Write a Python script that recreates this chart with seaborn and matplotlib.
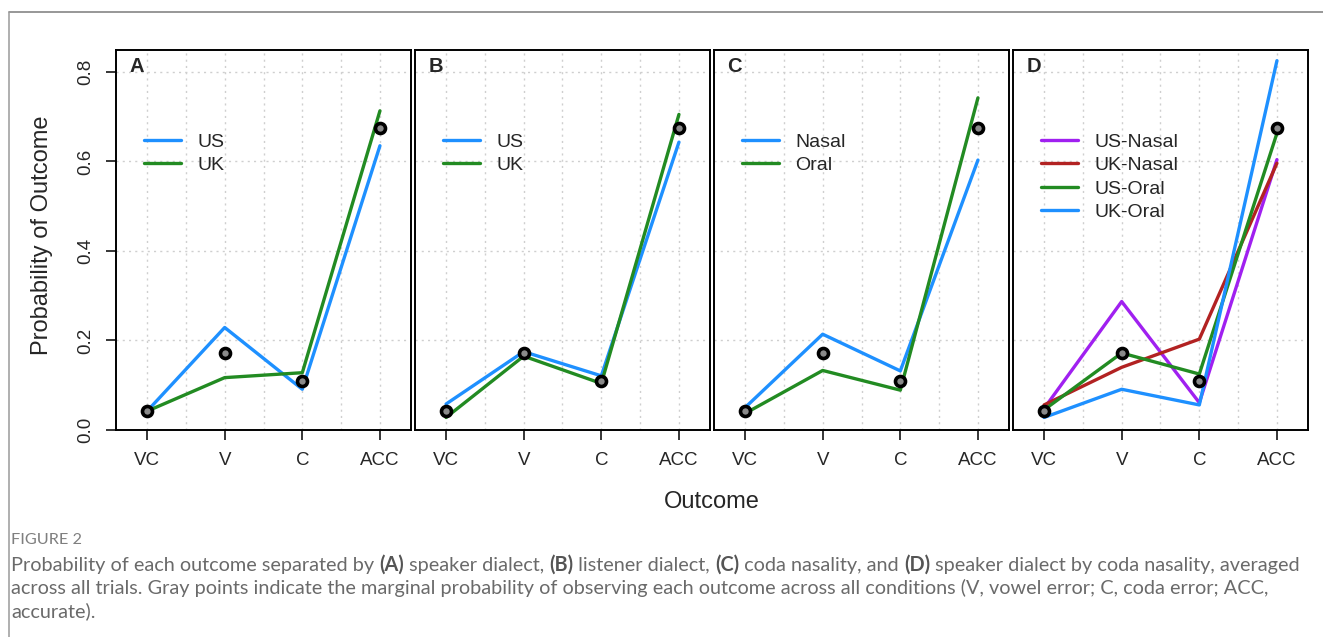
import matplotlib
matplotlib.use("Agg")
import matplotlib.pyplot as plt
from matplotlib.ticker import MultipleLocator
import seaborn as sns
import pandas as pd

# ---------------- data ----------------
outcomes = ["VC", "V", "C", "ACC"]
marginal = [0.042, 0.173, 0.109, 0.675]

a_labels = ["US", "UK"]
a_us = [0.042, 0.229, 0.091, 0.635]
a_uk = [0.042, 0.117, 0.128, 0.713]

b_labels = ["US", "UK"]
b_us = [0.058, 0.175, 0.121, 0.643]
b_uk = [0.028, 0.165, 0.104, 0.705]

c_labels = ["Nasal", "Oral"]
c_nasal = [0.050, 0.214, 0.132, 0.603]
c_oral = [0.037, 0.133, 0.089, 0.742]

d_labels = ["US-Nasal", "UK-Nasal", "US-Oral", "UK-Oral"]
d_us_nasal = [0.048, 0.287, 0.061, 0.604]
d_uk_nasal = [0.056, 0.140, 0.203, 0.596]
d_us_oral = [0.045, 0.172, 0.125, 0.663]
d_uk_oral = [0.028, 0.091, 0.056, 0.825]

panel_letters = ["A", "B", "C", "D"]
yticks = [0.0, 0.2, 0.4, 0.6, 0.8]

BLUE, GREEN, PURPLE, RED = "#1E90FF", "#228B22", "#A020F0", "#B22222"

panels = [
    (a_labels, [a_us, a_uk], [BLUE, GREEN]),
    (b_labels, [b_us, b_uk], [BLUE, GREEN]),
    (c_labels, [c_nasal, c_oral], [BLUE, GREEN]),
    (d_labels, [d_us_nasal, d_uk_nasal, d_us_oral, d_uk_oral],
     [PURPLE, RED, GREEN, BLUE]),
]

# ---------------- figure ----------------
sns.set_style("white")
plt.rcParams["font.family"] = ["Liberation Sans", "DejaVu Sans"]

W, H = 1323, 637
fig = plt.figure(figsize=(W / 100, H / 100), dpi=100)

def px_axes(x0, y0, x1, y1):
    return fig.add_axes([x0 / W, 1 - y1 / H, (x1 - x0) / W, (y1 - y0) / H])

lefts = [116, 415, 714, 1013]
pw = 295
top, bottom = 49.5, 430

for i, (labels, series, colors) in enumerate(panels):
    ax = px_axes(lefts[i], top, lefts[i] + pw, bottom)
    rows = []
    for lab, vals in zip(labels, series):
        for o, v in zip(outcomes, vals):
            rows.append({"Outcome": o, "p": v, "group": lab})
    df = pd.DataFrame(rows)
    sns.lineplot(data=df, x="Outcome", y="p", hue="group", hue_order=labels,
                 palette=dict(zip(labels, colors)), linewidth=2.4, ax=ax,
                 sort=False, solid_capstyle="round", zorder=3)
    mdf = pd.DataFrame({"Outcome": outcomes, "p": marginal})
    sns.scatterplot(data=mdf, x="Outcome", y="p", s=52, color="#8a8a8a",
                    edgecolor="black", linewidth=2.6, ax=ax, legend=False,
                    zorder=5)
    ax.set_xlim(-0.4, 3.4)
    ax.set_ylim(0, 0.85)
    ax.set_xlabel("")
    ax.set_ylabel("")
    ax.xaxis.set_minor_locator(MultipleLocator(0.5))
    ax.set_yticks(yticks)
    ax.set_axisbelow(True)
    ax.grid(True, which="both", axis="x", color="#cfcfcf", linestyle=(0, (1.5, 3)), linewidth=1.0)
    ax.grid(True, which="major", axis="y", color="#cfcfcf", linestyle=(0, (1.5, 3)), linewidth=1.0)
    for s in ax.spines.values():
        s.set_color("black")
        s.set_linewidth(1.4)
    ax.tick_params(axis="x", which="major", length=7.5, width=1.1, color="black",
                   labelsize=13.5, pad=8, direction="out", bottom=True)
    ax.tick_params(axis="x", which="minor", length=0)
    if i == 0:
        ax.tick_params(axis="y", length=7.5, width=1.1, color="black",
                       labelsize=13.5, pad=8, direction="out", left=True)
        ax.set_yticklabels([f"{v:.1f}" for v in yticks])
        plt.setp(ax.get_yticklabels(), rotation=90, va="center")
    else:
        ax.tick_params(axis="y", length=0, labelleft=False)
    handles, labs = ax.get_legend_handles_labels()
    ax.legend(handles, labs, loc="upper left", bbox_to_anchor=(0.095, 0.78),
              frameon=False, fontsize=14, handlelength=1.9, handletextpad=0.85,
              labelspacing=0.3, borderpad=0, borderaxespad=0)
    ax.text(0.045, 0.955, panel_letters[i], transform=ax.transAxes,
            fontsize=14.5, fontweight="bold", ha="left", va="center")

# axis titles
fig.text(42 / W, 1 - 235 / H, "Probability of Outcome", rotation=90,
         ha="center", va="center", fontsize=17)
fig.text(712 / W, 1 - 502 / H, "Outcome", ha="center", va="center", fontsize=17)

# outer frame (top and left)
fig.add_artist(plt.Line2D([9 / W, 1.0], [1 - 12 / H, 1 - 12 / H], color="#7a7a7a", linewidth=1.1))
fig.add_artist(plt.Line2D([9 / W, 9 / W], [1 - 12 / H, 0.0], color="#9a9a9a", linewidth=1.1))

# ---------------- caption ----------------
renderer = fig.canvas.get_renderer()
CAP_FONT = ["Lato", "DejaVu Sans"]
CAP_COLOR = "#6a6a6a"

def draw_rich(x_px, y_px, segments, size, draw=True):
    x = x_px
    made = []
    for txt, bold in segments:
        t = fig.text(x / W, 1 - y_px / H, txt, fontsize=size, family=CAP_FONT,
                     fontweight="bold" if bold else "normal",
                     color="#555555" if bold else CAP_COLOR,
                     ha="left", va="center")
        bb = t.get_window_extent(renderer)
        x += bb.width
        made.append(t)
    if not draw:
        for t in made:
            t.remove()
    return x - x_px

line1 = [("Probability of each outcome separated by ", False), ("(A)", True),
         (" speaker dialect, ", False), ("(B)", True), (" listener dialect, ", False),
         ("(C)", True), (" coda nasality, and ", False), ("(D)", True),
         (" speaker dialect by coda nasality, averaged", False)]
line2 = [("across all trials. Gray points indicate the marginal probability of observing each outcome across all conditions (V, vowel error; C, coda error; ACC,", False)]
line3 = [("accurate).", False)]

base = 12.0
w = draw_rich(11, 565, line1, base, draw=False)
size = base * (1283 / w)
draw_rich(11, 565, line1, size)
draw_rich(11, 588, line2, size)
draw_rich(11, 611, line3, size)

t = fig.text(11 / W, 1 - 540 / H, "FIGURE 2", fontsize=10, family=CAP_FONT,
             color="#7f7f7f", ha="left", va="center")
bb = t.get_window_extent(renderer)
t.set_fontsize(10 * 70 / bb.width)

fig.savefig("out.png", dpi=100)
